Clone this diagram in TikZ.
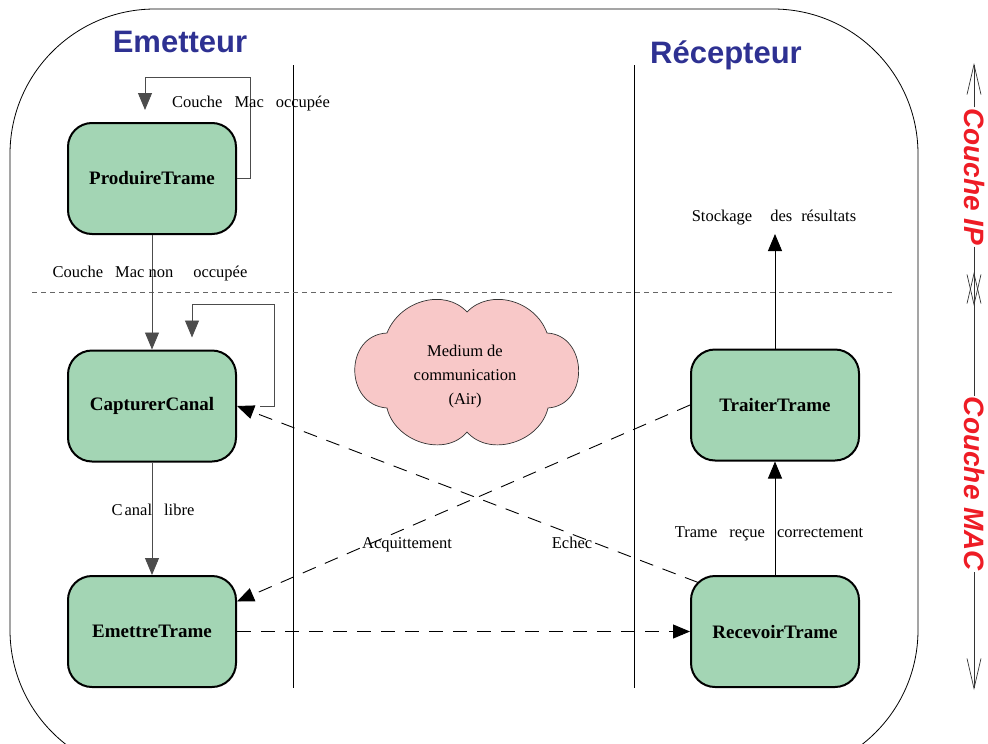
\documentclass[tikz,border=0pt]{standalone}
\usepackage{fontspec}
\setmainfont{Liberation Serif}
\setsansfont{Liberation Sans}
\usetikzlibrary{arrows.meta,positioning}
\definecolor{etvert}{HTML}{A3D5B4}
\definecolor{nuage}{HTML}{F8C8C8}
\definecolor{titbleu}{HTML}{2E3192}
\definecolor{cotrouge}{HTML}{EE1C25}
\newcommand{\esp}{\hspace{12pt}}
\tikzset{
  etat/.style   = {rectangle, rounded corners=24pt, draw=black, line width=2pt,
                   fill=etvert, minimum width=168pt, minimum height=111pt,
                   font=\fontsize{19}{21}\selectfont\bfseries, align=center},
  lbl/.style    = {font=\fontsize{16.5}{19}\selectfont, inner sep=1pt, anchor=base},
  titre/.style  = {font=\fontsize{31}{34}\selectfont\sffamily\bfseries,
                   text=titbleu, anchor=base},
  couche/.style = {font=\fontsize{28}{30}\selectfont\sffamily\bfseries\itshape,
                   text=cotrouge, rotate=-90, inner sep=1pt},
  fl/.style     = {-{Triangle[length=17pt,width=14pt]}, draw=black!70, line width=0.9pt},
  fld/.style    = {-{Triangle[length=17pt,width=14pt]}, draw=black, line width=0.9pt,
                   dash pattern=on 14pt off 10pt},
  axe/.style    = {-{Straight Barb[length=30pt,width=14pt]}, draw=black!80, line width=0.7pt},
  sep/.style    = {draw=black, line width=0.8pt},
}

\begin{document}
\begin{tikzpicture}[x=1pt,y=-1pt]
  \useasboundingbox (0,0) rectangle (988,744);
  \clip (0,0) rectangle (988,744);
  % cadre et separations
  \draw[sep] (10,9) [rounded corners=145pt] rectangle (918,775);
  \draw[sep] (293,65) -- (293,688);
  \draw[sep] (634,65) -- (634,688);
  \draw[draw=black!60, line width=0.6pt, dash pattern=on 5pt off 4pt] (32,292) -- (892,292);
  % medium
  \draw[fill=nuage, draw=black!80, line width=0.7pt]
    (467,312) .. controls (490,288) and (535,300) .. (547,333)
    .. controls (588,335) and (590,405) .. (548,408)
    .. controls (540,442) and (490,458) .. (467,432)
    .. controls (445,458) and (395,442) .. (387,408)
    .. controls (344,405) and (344,335) .. (387,333)
    .. controls (400,300) and (445,288) .. (467,312) -- cycle;
  \node[align=center, font=\fontsize{16.5}{24}\selectfont] (medium) at (465,377)
    {Medium de\\communication\\(Air)};

  \node[titre] (emet) at (180,52) {Emetteur};
  \node[titre] (recep) at (726,63) {Récepteur};

  \node[etat] (pt) at (152,178.5) {ProduireTrame};
  \node[etat] (cc) at (152,406) {CapturerCanal};
  \node[etat] (et) at (152,631.5) {EmettreTrame};
  \node[etat] (tt) at (775,405) {TraiterTrame};
  \node[etat] (rt) at (775,631.5) {RecevoirTrame};
  \coordinate (sortie) at (775,234);

  \draw[fl, shorten >=12pt] (pt.east) -| (250,77) -| ([xshift=-7pt]pt.north);
  \draw[fl] (pt) -- (cc);
  \draw[fl, shorten <=23pt, shorten >=12pt] (cc.east) -| (274,304) -| ([xshift=40pt]cc.north);
  \draw[fl] (cc) -- (et);
  \draw[fld] (et) -- (rt);
  \draw[fld] (tt.west) -- ([yshift=30pt]et.east);
  \draw[fld] ([xshift=8pt]rt.150) -- (cc.east);
  \draw[fl, draw=black] (rt) -- (tt);
  \draw[fl, draw=black] (tt) -- (sortie);

  \node[lbl] (occ) at (251,107) {Couche\esp Mac\esp occupée};
  \node[lbl] (nonocc) at (150,277) {Couche\esp Mac non\hspace{20pt}occupée};
  \node[lbl] (libre) at (153,515) {C\kern2pt anal\esp libre};
  \node[lbl] (stock) at (774,221) {Stockage\hspace{18pt}des\hspace{9pt}résultats};
  \node[lbl] (recue) at (769,537) {Trame\esp reçue\esp correctement};
  \node[lbl] (acq) at (407,548) {Acquittement};
  \node[lbl] (echec) at (572,548) {Echec};

  % couches
  \coordinate (axh) at (974,63);
  \coordinate (axmb) at (974,306);
  \coordinate (axmh) at (974,272);
  \coordinate (axb) at (974,690);
  \node[couche] (cip) at (974,177) {Couche IP};
  \node[couche] (cmac) at (974,484) {Couche MAC};
  \draw[axe] (cip) -- (axh);
  \draw[axe] (cip) -- (axmb);
  \draw[axe] (cmac) -- (axmh);
  \draw[axe] (cmac) -- (axb);
\end{tikzpicture}
\end{document}
